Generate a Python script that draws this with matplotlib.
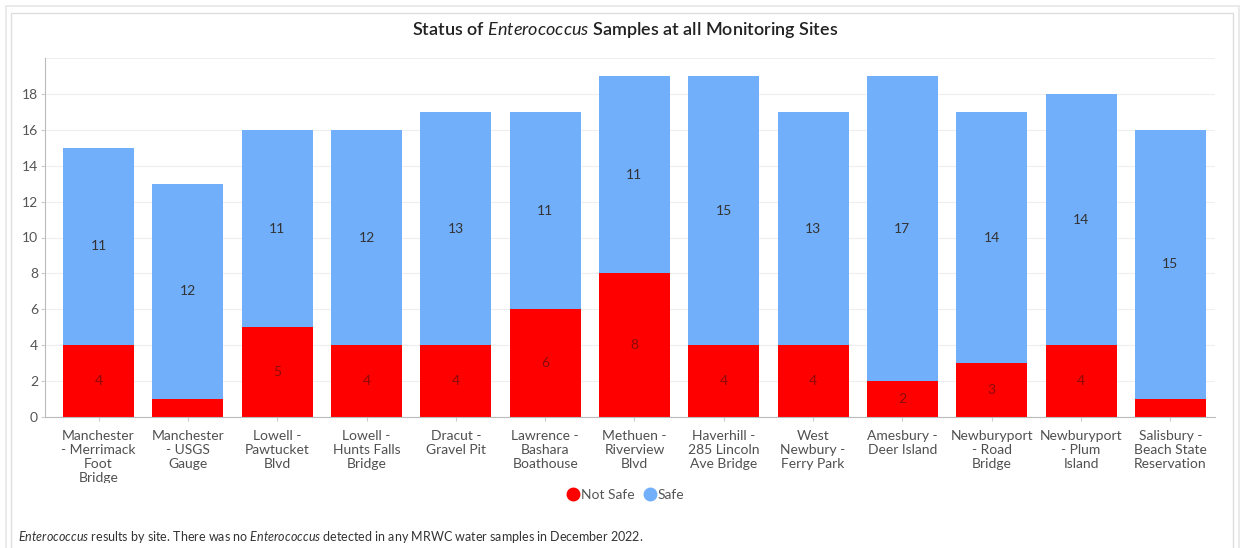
import matplotlib
matplotlib.use('Agg')
import matplotlib.pyplot as plt
from matplotlib.lines import Line2D
from matplotlib.patches import Rectangle
from matplotlib.transforms import Bbox
import numpy as np

plt.rcParams['font.family'] = ['Lato', 'DejaVu Sans']
plt.rcParams['mathtext.fontset'] = 'custom'
plt.rcParams['mathtext.rm'] = 'Lato'
plt.rcParams['mathtext.it'] = 'Lato:italic'

# Sample counts per monitoring site (Dec 2022 season)
sites = [
    'Manchester\n- Merrimack\nFoot\nBridge',
    'Manchester\n- USGS\nGauge',
    'Lowell -\nPawtucket\nBlvd',
    'Lowell -\nHunts Falls\nBridge',
    'Dracut -\nGravel Pit',
    'Lawrence -\nBashara\nBoathouse',
    'Methuen -\nRiverview\nBlvd',
    'Haverhill -\n285 Lincoln\nAve Bridge',
    'West\nNewbury -\nFerry Park',
    'Amesbury -\nDeer Island',
    'Newburyport\n- Road\nBridge',
    'Newburyport\n- Plum\nIsland',
    'Salisbury -\nBeach State\nReservation',
]
not_safe = [4, 1, 5, 4, 4, 6, 8, 4, 4, 2, 3, 4, 1]
safe = [11, 12, 11, 12, 13, 11, 11, 15, 13, 17, 14, 14, 15]

RED = '#ff0000'
BLUE = '#72affb'

W, H = 1243, 548
fig = plt.figure(figsize=(W / 100, H / 100), dpi=100)

# card outlines
fig.patches.append(Rectangle((6 / W, -0.1), (W - 10) / W, 1.1 - 6 / H, transform=fig.transFigure,
                             fill=False, edgecolor='#e6e6e6', linewidth=1.2))
fig.patches.append(Rectangle((11 / W, -0.1), (1233 - 11) / W, 1.1 - 13 / H, transform=fig.transFigure,
                             fill=False, edgecolor='#dedede', linewidth=1.0))

ax = fig.add_axes([45 / W, 1 - 417 / H, (1215 - 45) / W, (417 - 58) / H])

x = np.arange(len(sites))
width = 0.795
b1 = ax.bar(x, not_safe, width, color=RED, zorder=2)
b2 = ax.bar(x, safe, width, bottom=not_safe, color=BLUE, zorder=2)

# segment value labels (the 1-sample slivers stay unlabelled)
for xi, ns, s in zip(x, not_safe, safe):
    if ns > 1:
        ax.text(xi, ns / 2, str(ns), ha='center', va='center', fontsize=10, color='#8a0a0a', zorder=3)
    ax.text(xi, ns + s / 2, str(s), ha='center', va='center', fontsize=10, color='#333333', zorder=3)

ax.set_xlim(-0.6, 12.5)
ax.set_ylim(0, 20)
ax.set_yticks(np.arange(0, 20, 2))
ax.set_xticks(x)
ax.set_xticklabels(sites, fontsize=10, color='#505050', linespacing=1.22)
ax.tick_params(axis='y', length=3, color='#cccccc', labelsize=10, labelcolor='#555555', pad=2)
ax.tick_params(axis='x', length=3, color='#cccccc', pad=6)
ax.grid(axis='y', color='#eeeeee', linewidth=0.8, zorder=0)
ax.axhline(20, color='#eeeeee', linewidth=0.8, zorder=0)
for side in ['top', 'right']:
    ax.spines[side].set_visible(False)
for side in ['left', 'bottom']:
    ax.spines[side].set_color('#bbbbbb')
    ax.spines[side].set_linewidth(0.8)

# long labels get cut at the legend band
clip = Bbox.from_extents(0, H - 483, W, H)
for lbl in ax.get_xticklabels():
    lbl.set_clip_on(True)
    lbl.set_clip_box(clip)

fig.text(625 / W, 1 - 30 / H, r'Status of $Enterococcus$ Samples at all Monitoring Sites',
         ha='center', va='center', fontsize=13, fontweight='semibold', color='#222222')

handles = [
    Line2D([], [], marker='o', linestyle='none', markersize=9, color=RED, label='Not Safe'),
    Line2D([], [], marker='o', linestyle='none', markersize=9, color=BLUE, label='Safe'),
]
fig.legend(handles=handles, loc='center', bbox_to_anchor=(625 / W, 1 - 495 / H), ncol=2,
           frameon=False, fontsize=10, handletextpad=0.05, columnspacing=0.6,
           handlelength=1.0, labelcolor='#555555')

fig.text(18 / W, 1 - 537 / H,
         r'$Enterococcus$ results by site. There was no $Enterococcus$ detected in any MRWC water samples in December 2022.',
         ha='left', va='center', fontsize=9, color='#333333')

fig.savefig('out.png', dpi=100)
